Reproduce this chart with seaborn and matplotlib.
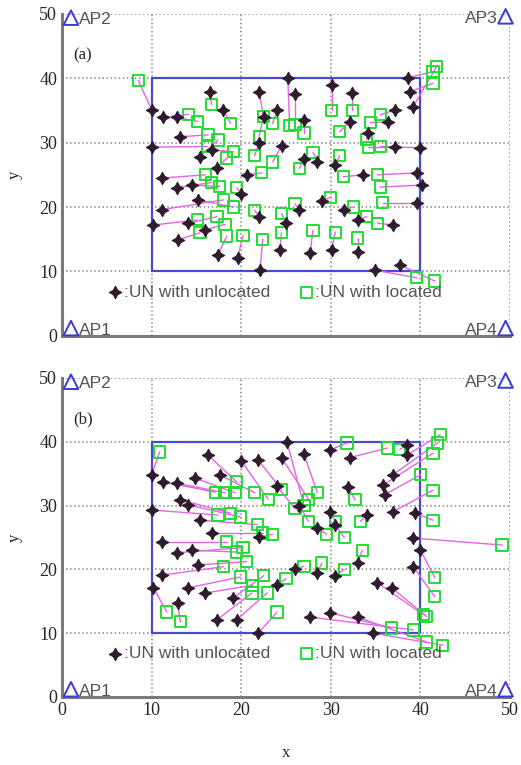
import pandas as pd
import matplotlib
matplotlib.use('Agg')
import matplotlib.pyplot as plt
import seaborn as sns

# access points (corners)
ap_names = ['AP1', 'AP2', 'AP3', 'AP4']
ap_x = [1.0, 1.0, 49.5, 49.5]
ap_y = [1.2, 49.4, 49.6, 1.2]

# deployment area
area_x = [10, 40, 40, 10, 10]
area_y = [10, 10, 40, 40, 10]

# panel (a): unlocated node -> located position
a_un_x = [10.0, 16.5, 11.3, 12.8, 18.0, 10.0, 13.2, 15.4, 16.7, 17.3, 20.6, 11.2, 12.8, 14.5, 11.2, 15.2,
          10.2, 14.1, 16.0, 12.9, 17.4, 19.6, 22.1, 25.2, 30.1, 32.4, 38.6, 38.8, 39.2, 37.2, 36.4, 32.1,
          34.2, 40.0, 37.2, 39.6, 40.2, 39.6, 33.6, 36.9, 27.7, 30.1, 33.0, 34.9, 37.7, 24.5, 27.0, 28.5,
          30.5, 29.0, 26.5, 25.0, 31.5, 33.0, 22.0, 20.0, 24.0, 22.5, 27.0, 26.0, 22.0, 22.0, 24.3]
a_un_y = [35.1, 37.9, 33.9, 33.9, 35.1, 29.3, 30.9, 27.8, 28.9, 26.1, 25.0, 24.5, 23.0, 23.4, 19.6, 21.1,
          17.2, 17.5, 16.5, 14.9, 12.6, 12.1, 10.2, 40.0, 39.0, 37.7, 40.1, 37.9, 35.6, 35.1, 33.2, 33.2,
          31.5, 29.2, 29.3, 25.3, 23.4, 20.7, 25.0, 17.2, 12.9, 13.4, 13.0, 10.2, 11.0, 29.5, 27.5, 27.0,
          26.5, 21.0, 19.5, 17.5, 19.5, 18.0, 18.5, 22.0, 35.0, 34.0, 33.5, 37.5, 37.8, 30.0, 13.4]
a_loc_x = [8.5, 16.7, 14.1, 15.1, 18.8, 16.2, 16.3, 17.4, 19.1, 18.4, 22.3, 16.0, 16.7, 17.6, 18.0, 19.1,
           15.1, 17.3, 18.2, 15.4, 18.4, 20.2, 22.4, 25.4, 30.1, 32.4, 41.4, 41.4, 41.8, 35.5, 34.4, 31.0,
           34.0, 35.5, 34.2, 35.2, 35.5, 35.8, 31.4, 35.2, 28.0, 30.5, 33.0, 39.6, 41.6, 23.5, 26.5, 28.0,
           31.0, 30.0, 26.0, 24.5, 32.5, 34.0, 21.5, 19.5, 23.5, 22.0, 27.0, 26.0, 22.5, 21.5, 24.5]
a_loc_y = [39.7, 35.9, 34.4, 33.3, 33.0, 29.4, 31.2, 30.4, 28.6, 27.6, 25.3, 25.0, 23.8, 23.2, 21.1, 20.0,
           18.0, 18.5, 17.3, 16.0, 15.5, 15.6, 15.0, 32.6, 35.0, 35.0, 41.0, 39.2, 41.8, 34.3, 33.1, 31.7,
           30.5, 29.4, 29.3, 25.0, 23.1, 20.7, 24.7, 17.5, 16.4, 16.1, 15.2, 9.0, 8.5, 27.0, 26.0, 28.5,
           28.0, 21.5, 20.5, 19.0, 20.0, 18.5, 19.5, 23.0, 33.0, 31.0, 31.5, 32.8, 34.0, 28.0, 16.0]

# panel (b)
b_un_x = [10.0, 16.3, 11.3, 12.8, 14.8, 17.6, 21.9, 10.0, 13.2, 14.1, 15.4, 16.7, 11.2, 12.8, 14.5, 11.2,
          15.2, 10.2, 12.9, 14.1, 16.0, 17.3, 19.5, 19.1, 21.9, 25.1, 29.9, 32.1, 38.5, 38.5, 36.9, 35.8,
          36.0, 31.9, 36.9, 39.4, 39.2, 40.0, 39.2, 35.2, 36.8, 29.9, 27.7, 33.0, 34.7, 34.0, 24.0, 26.5,
          28.5, 30.5, 26.0, 28.5, 30.5, 24.0, 22.0, 24.5, 27.0, 33.0, 29.9, 20.0]
b_un_y = [34.8, 37.9, 33.7, 33.5, 34.3, 34.8, 37.1, 29.3, 30.9, 30.1, 27.7, 25.7, 24.3, 22.6, 23.0, 19.1,
          20.7, 17.1, 14.7, 17.1, 16.3, 12.1, 12.1, 15.5, 10.0, 40.0, 38.7, 37.5, 39.5, 37.9, 34.8, 33.2,
          31.7, 32.9, 29.0, 28.8, 24.9, 23.0, 20.4, 17.9, 17.1, 13.2, 12.5, 12.5, 10.0, 28.5, 33.0, 30.0,
          26.5, 27.0, 20.0, 19.5, 19.0, 17.5, 25.0, 37.5, 38.0, 21.0, 29.0, 37.0]
b_loc_x = [10.9, 19.5, 17.1, 18.2, 19.3, 21.5, 24.5, 17.4, 18.8, 19.9, 21.8, 22.4, 18.4, 20.2, 19.5, 18.0,
           20.6, 11.7, 13.2, 19.9, 21.3, 21.2, 22.9, 22.5, 24.0, 27.0, 31.8, 36.3, 37.7, 42.2, 41.9, 41.4,
           40.0, 32.7, 41.4, 41.4, 49.1, 41.6, 41.6, 40.3, 40.7, 36.8, 39.2, 40.7, 42.5, 33.3, 26.0, 27.5,
           29.5, 31.5, 27.0, 29.0, 31.5, 25.0, 23.5, 27.5, 28.5, 33.5, 30.5, 23.0]
b_loc_y = [38.4, 33.7, 32.1, 32.0, 32.0, 32.0, 32.5, 28.5, 28.8, 28.2, 27.0, 25.7, 24.3, 23.4, 22.7, 20.4,
           21.2, 13.3, 11.8, 18.8, 17.5, 16.3, 16.3, 19.0, 13.3, 30.0, 39.8, 39.0, 38.8, 41.1, 39.8, 38.2,
           34.8, 30.9, 32.4, 27.7, 23.8, 18.7, 15.7, 12.9, 12.6, 10.8, 10.5, 8.6, 8.1, 27.5, 29.5, 27.5,
           25.5, 25.0, 20.5, 21.0, 20.0, 18.5, 25.5, 31.0, 32.0, 23.0, 27.5, 31.0]

panels = [
    ('(a)', a_un_x, a_un_y, a_loc_x, a_loc_y),
    ('(b)', b_un_x, b_un_y, b_loc_x, b_loc_y),
]

sns.set_style('white')
plt.rcParams['font.family'] = ['Liberation Serif', 'DejaVu Serif']

star = (4, 1, 0)
fig = plt.figure(figsize=(5.21, 7.65), dpi=100)
ax_a = fig.add_axes([0.119, 0.561, 0.860, 0.421])
ax_b = fig.add_axes([0.119, 0.089, 0.860, 0.417])

for ax, (tag, ux, uy, lx, ly) in zip([ax_a, ax_b], panels):
    df = pd.DataFrame({'ux': ux, 'uy': uy, 'lx': lx, 'ly': ly})

    # links between each node and its estimate
    for _, r in df.iterrows():
        ax.plot([r.ux, r.lx], [r.uy, r.ly], color='#e466e4', lw=1.0, zorder=2)

    ax.plot(area_x, area_y, color='#4a4ad0', lw=1.6, zorder=1)

    sns.scatterplot(data=df, x='ux', y='uy', ax=ax, marker=star, s=80, color='#2e1c2e',
                    edgecolor='#2e1c2e', linewidth=0.8, zorder=4, label=':UN with unlocated')
    sns.scatterplot(data=df, x='lx', y='ly', ax=ax, marker='s', s=65, facecolors='none',
                    edgecolor='#22dd33', linewidth=1.4, zorder=3, label=':UN with located')

    ax.scatter(ap_x, ap_y, marker='^', s=110, facecolors='none', edgecolors='#3a3ad8',
               linewidths=1.4, zorder=5, clip_on=False)
    for name, x, y in zip(ap_names, ap_x, ap_y):
        if x < 25:
            ax.text(x + 0.9, y - 0.3, name, ha='left', va='center', fontsize=12.5,
                    color='#555555', family='Liberation Sans')
        else:
            ax.text(x - 0.9, y - 0.3, name, ha='right', va='center', fontsize=12.5,
                    color='#555555', family='Liberation Sans')

    ax.text(1.2, 43.5, tag, fontsize=12, ha='left', va='center')

    ax.set_xlim(0, 50)
    ax.set_ylim(0, 50)
    ax.set_xticks([0, 10, 20, 30, 40, 50])
    ax.set_yticks([0, 10, 20, 30, 40, 50])
    ax.grid(True, linestyle=':', color='#888888', lw=1.1)
    ax.tick_params(direction='in', length=3, color='#777777', labelsize=13)
    for side in ['top', 'right']:
        ax.spines[side].set_visible(False)
    for side in ['left', 'bottom']:
        ax.spines[side].set_color('#7a7a7a')
        ax.spines[side].set_linewidth(2.2)

    ax.set_ylabel('y', fontsize=12, labelpad=12)
    ax.set_xlabel('')
    leg = ax.legend(ncol=2, loc='center left', bbox_to_anchor=(0.065, 0.135), frameon=False,
                    handletextpad=0.0, handlelength=1.0, columnspacing=1.6,
                    prop={'family': 'Liberation Sans', 'size': 12.5})
    for t in leg.get_texts():
        t.set_color('#555555')

ax_a.set_xticklabels([])
ax_b.set_xlabel('x', fontsize=12, labelpad=19)

fig.savefig('out.png', dpi=100)
